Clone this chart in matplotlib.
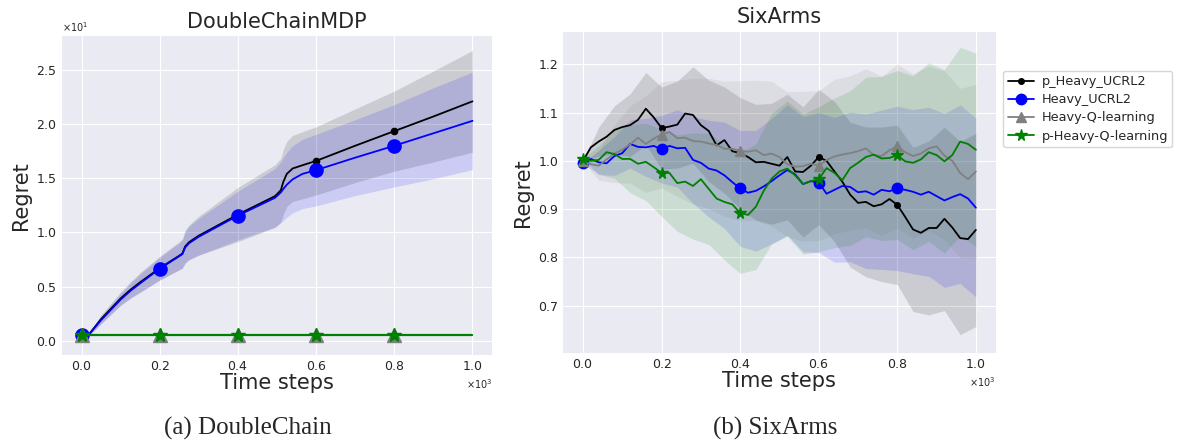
import numpy as np
import matplotlib
matplotlib.use("Agg")
from matplotlib import pyplot as plt

plt.style.use("seaborn-v0_8-darkgrid")
plt.rcParams["font.family"] = ["DejaVu Sans"]

# ---- DoubleChainMDP (left) ----
dc_steps = [0, 15, 50, 100, 125, 150, 200, 250, 258, 265, 275, 300, 400,
            495, 510, 516, 525, 540, 565, 600, 700, 800, 900, 1000]
dc_p_heavy_ucrl2 = [0.5, 0.4, 2.0, 3.9, 4.7, 5.4, 6.7, 7.85, 8.05, 8.7, 9.1, 9.7, 11.65,
                    13.35, 13.9, 14.65, 15.4, 15.9, 16.2, 16.6, 18.0, 19.35, 20.7, 22.1]
dc_p_heavy_ucrl2_std = [0, 0.1, 0.4, 0.6, 0.75, 0.9, 1.1, 1.3, 1.35, 1.5, 1.6, 1.8, 2.5,
                        2.9, 2.95, 3.0, 3.0, 3.05, 3.1, 3.15, 3.4, 3.7, 4.2, 4.7]
dc_heavy_ucrl2 = [0.5, 0.4, 1.9, 3.8, 4.6, 5.3, 6.65, 7.8, 8.0, 8.6, 9.0, 9.6, 11.55,
                  13.2, 13.7, 14.0, 14.4, 14.9, 15.4, 15.75, 16.9, 18.0, 19.15, 20.3]
dc_heavy_ucrl2_std = [0, 0.1, 0.35, 0.55, 0.7, 0.85, 1.05, 1.25, 1.3, 1.45, 1.55, 1.7, 2.25,
                      2.7, 2.8, 2.9, 3.0, 3.1, 3.2, 3.3, 3.5, 3.8, 4.2, 4.5]
dc_q_steps = [0, 200, 400, 600, 800, 1000]
dc_heavy_q = [0.5, 0.5, 0.5, 0.5, 0.5, 0.5]
dc_p_heavy_q = [0.5, 0.5, 0.5, 0.5, 0.5, 0.5]

# ---- SixArms (right) ----
sa_steps = list(range(0, 1001, 20))
sa_p_heavy_ucrl2 = [1.000, 1.028, 1.040, 1.050, 1.064, 1.070, 1.074, 1.085, 1.108, 1.090,
                    1.068, 1.071, 1.075, 1.098, 1.095, 1.074, 1.062, 1.032, 1.043, 1.020,
                    1.016, 1.008, 0.997, 0.998, 0.994, 0.990, 1.008, 0.978, 0.977, 0.990,
                    1.008, 1.000, 0.978, 0.957, 0.930, 0.913, 0.915, 0.906, 0.910, 0.921,
                    0.909, 0.884, 0.858, 0.851, 0.861, 0.861, 0.880, 0.862, 0.840, 0.838,
                    0.857]
sa_heavy_ucrl2 = [0.995, 1.004, 0.997, 0.995, 1.010, 1.016, 1.035, 1.029, 1.028, 1.031,
                  1.024, 1.031, 1.026, 1.027, 1.002, 0.996, 0.984, 0.980, 0.970, 0.956,
                  0.943, 0.934, 0.938, 0.947, 0.958, 0.970, 0.981, 0.972, 0.952, 0.958,
                  0.955, 0.932, 0.940, 0.948, 0.946, 0.935, 0.937, 0.930, 0.940, 0.937,
                  0.943, 0.940, 0.936, 0.930, 0.936, 0.927, 0.918, 0.925, 0.931, 0.922,
                  0.903]
sa_heavy_q = [0.999, 0.993, 0.990, 1.003, 1.015, 1.023, 1.034, 1.048, 1.035, 1.046,
              1.054, 1.060, 1.047, 1.048, 1.041, 1.040, 1.036, 1.033, 1.025, 1.025,
              1.021, 1.019, 1.022, 1.012, 1.015, 1.008, 0.993, 0.988, 0.989, 0.994,
              0.990, 1.002, 1.009, 1.013, 1.016, 1.020, 1.026, 1.012, 1.010, 1.022,
              1.030, 1.018, 1.010, 1.015, 1.026, 1.030, 1.011, 1.000, 0.975, 0.962,
              0.978]
sa_p_heavy_q = [1.004, 1.000, 1.002, 1.018, 1.014, 1.004, 1.004, 0.994, 0.998, 0.987,
                0.975, 0.975, 0.954, 0.957, 0.948, 0.962, 0.942, 0.922, 0.915, 0.910,
                0.892, 0.888, 0.905, 0.938, 0.963, 0.978, 0.984, 0.970, 0.952, 0.958,
                0.962, 0.985, 0.975, 0.960, 0.985, 0.996, 1.008, 1.013, 1.005, 1.006,
                1.012, 0.999, 0.996, 1.003, 1.018, 1.012, 0.999, 1.012, 1.040, 1.035,
                1.023]
# std on every second step (0, 40, ..., 1000)
sa_p_heavy_ucrl2_std = [0.0, 0.03, 0.05, 0.065, 0.075, 0.085, 0.09, 0.10, 0.105, 0.11, 0.115,
                        0.12, 0.125, 0.13, 0.135, 0.14, 0.145, 0.15, 0.155, 0.16, 0.165,
                        0.17, 0.18, 0.19, 0.20, 0.20]
sa_heavy_ucrl2_std = [0.0, 0.025, 0.04, 0.05, 0.06, 0.07, 0.08, 0.09, 0.10, 0.11, 0.12,
                      0.125, 0.13, 0.135, 0.14, 0.145, 0.15, 0.155, 0.16, 0.165, 0.17,
                      0.17, 0.175, 0.18, 0.185, 0.185]
sa_heavy_q_std = [0.0, 0.03, 0.06, 0.08, 0.10, 0.11, 0.12, 0.13, 0.135, 0.14, 0.145,
                  0.145, 0.15, 0.15, 0.155, 0.155, 0.16, 0.16, 0.165, 0.165, 0.17,
                  0.17, 0.17, 0.175, 0.175, 0.18]
sa_p_heavy_q_std = [0.0, 0.03, 0.05, 0.07, 0.08, 0.09, 0.10, 0.11, 0.115, 0.12, 0.125,
                    0.13, 0.135, 0.14, 0.145, 0.15, 0.155, 0.16, 0.165, 0.17, 0.175,
                    0.18, 0.185, 0.19, 0.195, 0.20]

labels = ["p_Heavy_UCRL2", "Heavy_UCRL2", "Heavy-Q-learning", "p-Heavy-Q-learning"]
colors = ["k", "b", "grey", "g"]
mark_steps = [0, 200, 400, 600, 800]

fig = plt.figure(figsize=(11.85, 4.42), dpi=100)
ax1 = fig.add_axes([0.0523, 0.1968, 0.3629, 0.7217])
ax2 = fig.add_axes([0.4754, 0.2007, 0.3647, 0.7276])


def marks(steps):
    return [i for i, s in enumerate(steps) if s in mark_steps]


# left panel
x = np.array(dc_steps)
for mean, std, c in [(dc_p_heavy_ucrl2, dc_p_heavy_ucrl2_std, "k"),
                     (dc_heavy_ucrl2, dc_heavy_ucrl2_std, "b")]:
    m, s = np.array(mean), np.array(std)
    ax1.fill_between(x, m - s, m + s, color=c, alpha=0.13, lw=0)
ax1.plot(x, dc_p_heavy_ucrl2, color="k", marker=".", ms=9, lw=1.3,
         markevery=marks(dc_steps))
ax1.plot(x, dc_heavy_ucrl2, color="b", marker="o", ms=9.5, lw=1.3,
         markevery=marks(dc_steps))
ax1.plot(dc_q_steps, dc_heavy_q, color="grey", marker="^", ms=10, lw=1.3,
         markevery=marks(dc_q_steps))
ax1.plot(dc_q_steps, dc_p_heavy_q, color="g", marker="*", ms=10, lw=1.6,
         markevery=marks(dc_q_steps))
ax1.set_xlim(-50, 1050)
ax1.set_ylim(-1.32, 28.13)
ax1.set_xticks(range(0, 1001, 200))
ax1.set_yticks(range(0, 26, 5))
ax1.ticklabel_format(style="sci", scilimits=(0, 0), useMathText=True)
ax1.set_title("DoubleChainMDP", fontsize=15)

# right panel
x = np.array(sa_steps)
means = [sa_p_heavy_ucrl2, sa_heavy_ucrl2, sa_heavy_q, sa_p_heavy_q]
stds = [sa_p_heavy_ucrl2_std, sa_heavy_ucrl2_std, sa_heavy_q_std, sa_p_heavy_q_std]
for mean, std, c in zip(means, stds, colors):
    m, s = np.array(mean)[::2], np.array(std)
    ax2.fill_between(x[::2], m - s, m + s, color=c, alpha=0.13, lw=0)
styles = [(".", 8), ("o", 7.5), ("^", 7.5), ("*", 8.5)]
for mean, c, lab, (mk, ms) in zip(means, colors, labels, styles):
    ax2.plot(x, mean, color=c, marker=mk, ms=ms, lw=1.3, label=lab,
             markevery=marks(sa_steps))
ax2.set_xlim(-50, 1050)
ax2.set_ylim(0.6015, 1.2675)
ax2.set_xticks(range(0, 1001, 200))
ax2.ticklabel_format(axis="x", style="sci", scilimits=(0, 0), useMathText=True)
ax2.set_title("SixArms", fontsize=15)
ax2.legend(loc="upper left", bbox_to_anchor=(1.018, 0.879), borderaxespad=0,
           fontsize=9.3, frameon=True, facecolor="white", edgecolor="#cccccc",
           handletextpad=0.6, borderpad=0.35, labelspacing=0.4)

for ax in (ax1, ax2):
    ax.tick_params(labelsize=9)
    ax.set_xlabel("Time steps", fontsize=15, labelpad=0)
    ax.set_ylabel("Regret", fontsize=15)
    ax.xaxis.get_offset_text().set_fontsize(7)
    ax.yaxis.get_offset_text().set_fontsize(7)

fig.text(248 / 1185, 1 - 428 / 442, "(a) DoubleChain", ha="center", va="center",
         fontsize=18, family="Liberation Serif")
fig.text(775 / 1185, 1 - 428 / 442, "(b) SixArms", ha="center", va="center",
         fontsize=18, family="Liberation Serif")

fig.savefig("out.png", dpi=100)
